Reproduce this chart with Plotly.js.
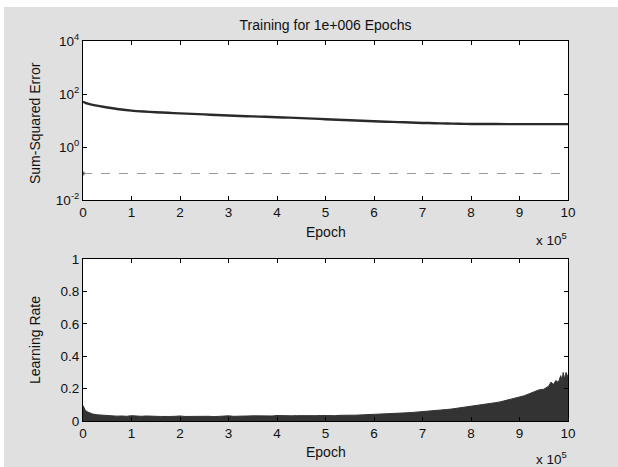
<!DOCTYPE html>
<html>
<head>
<meta charset="utf-8">
<script src="https://cdn.plot.ly/plotly-3.0.1.min.js"></script>
<style>
  html, body { margin: 0; padding: 0; background: #ffffff; width: 618px; height: 467px; overflow: hidden; }
  #chart { position: absolute; left: 4px; top: 7px; width: 614px; height: 460px; }
</style>
</head>
<body>
<div id="chart"></div>
<script>
// ---- data (epochs in units of 10^5) ----
const sseEpoch = [0, 0.05, 0.1, 0.25, 0.5, 0.75, 1, 1.25, 1.5, 1.75, 2, 2.25, 2.5, 2.75, 3, 3.25, 3.5, 3.75, 4, 4.25, 4.5, 4.75, 5, 5.25, 5.5, 5.75, 6, 6.25, 6.5, 6.75, 7, 7.25, 7.5, 7.75, 8, 8.5, 9, 9.5, 10];
const sseValue = [51, 46, 43, 37, 31, 26.5, 23.5, 21.8, 20.6, 19.5, 18.5, 17.8, 17, 16.1, 15.4, 14.8, 14.3, 13.8, 13.2, 12.8, 12.3, 11.8, 11.2, 10.7, 10.2, 9.8, 9.4, 9.0, 8.7, 8.4, 8.1, 7.9, 7.7, 7.5, 7.4, 7.35, 7.3, 7.3, 7.3];
const goalEpoch = [0, 10];
const goalValue = [0.1, 0.1];

const lrEpoch = [0, 0.02, 0.05, 0.1, 0.15, 0.2, 0.3, 0.4, 0.5, 0.6, 0.7, 0.8, 0.9,
  1.0, 1.1, 1.2, 1.3, 1.4, 1.5, 1.6, 1.7, 1.8, 1.9,
  2.0, 2.1, 2.2, 2.3, 2.4, 2.5, 2.6, 2.7, 2.8, 2.9,
  3.0, 3.1, 3.2, 3.3, 3.4, 3.5, 3.6, 3.7, 3.8, 3.9,
  4.0, 4.1, 4.2, 4.3, 4.4, 4.5, 4.6, 4.7, 4.8, 4.9,
  5.0, 5.1, 5.2, 5.3, 5.4, 5.5, 5.6, 5.7, 5.8, 5.9,
  6.0, 6.1, 6.2, 6.3, 6.4, 6.5, 6.6, 6.7, 6.8, 6.9,
  7.0, 7.1, 7.2, 7.3, 7.4, 7.5, 7.6, 7.7, 7.8, 7.9,
  8.0, 8.1, 8.2, 8.3, 8.4, 8.5, 8.6, 8.7, 8.8, 8.9,
  9.0, 9.1, 9.2, 9.3, 9.4, 9.5, 9.6, 9.65, 9.7, 9.75, 9.8, 9.85, 9.88, 9.9, 9.93, 9.96, 10.0];
const lrValue = [0.095, 0.08, 0.065, 0.055, 0.048, 0.043, 0.038, 0.035, 0.032, 0.031, 0.030, 0.031, 0.029,
  0.033, 0.030, 0.029, 0.031, 0.028, 0.029, 0.028, 0.030, 0.028, 0.029,
  0.031, 0.028, 0.029, 0.027, 0.029, 0.028, 0.029, 0.027, 0.029, 0.030,
  0.032, 0.029, 0.031, 0.030, 0.031, 0.032, 0.031, 0.033, 0.032, 0.031,
  0.034, 0.032, 0.033, 0.032, 0.033, 0.032, 0.033, 0.032, 0.033, 0.034,
  0.033, 0.034, 0.033, 0.035, 0.034, 0.035, 0.036, 0.037, 0.038, 0.039,
  0.040, 0.041, 0.042, 0.044, 0.045, 0.047, 0.048, 0.051, 0.053, 0.055,
  0.058, 0.060, 0.063, 0.065, 0.068, 0.071, 0.074, 0.078, 0.082, 0.085,
  0.090, 0.093, 0.098, 0.102, 0.107, 0.113, 0.118, 0.125, 0.131, 0.139,
  0.148, 0.156, 0.168, 0.180, 0.192, 0.196, 0.215, 0.24, 0.225, 0.25, 0.238, 0.28, 0.25, 0.30, 0.26, 0.30, 0.27];

const xTickVals = [0, 1, 2, 3, 4, 5, 6, 7, 8, 9, 10];
const xTickText = ['0', '1', '2', '3', '4', '5', '6', '7', '8', '9', '10'];
const sseTickVals = [0.01, 1, 100, 10000];
const sseTickText = ['10<sup>-2</sup>', '10<sup>0</sup>', '10<sup>2</sup>', '10<sup>4</sup>'];
const lrTickVals = [0, 0.2, 0.4, 0.6, 0.8, 1];
const lrTickText = ['0', '0.2', '0.4', '0.6', '0.8', '1'];

const titleText = 'Training for 1e+006 Epochs';

// ---- layout ----
const W = 614, H = 460;
const px = v => v / W;
const py = v => 1 - v / H;
const FAM = 'Liberation Sans, Arial, sans-serif';
const TICKFONT = { family: FAM, size: 13.5, color: '#111' };
const LABFONT = { family: FAM, size: 14, color: '#111' };

const axBase = {
  showgrid: false, zeroline: false, showline: true, linecolor: '#000', linewidth: 1,
  mirror: 'ticks', ticks: 'inside', ticklen: 4, tickcolor: '#000', tickwidth: 1,
  tickfont: TICKFONT, automargin: false, fixedrange: true
};

const traces = [
  { x: sseEpoch, y: sseValue, xaxis: 'x', yaxis: 'y', type: 'scatter', mode: 'lines',
    line: { color: '#2a2a2a', width: 2.4, shape: 'spline', smoothing: 0.6 }, hoverinfo: 'skip', showlegend: false },
  { x: goalEpoch, y: goalValue, xaxis: 'x', yaxis: 'y', type: 'scatter', mode: 'lines+markers',
    line: { color: '#9a9a9a', width: 1, dash: 'dash' },
    marker: { color: '#333', size: [4, 0] }, hoverinfo: 'skip', showlegend: false },
  { x: lrEpoch, y: lrValue, xaxis: 'x2', yaxis: 'y2', type: 'scatter', mode: 'lines',
    fill: 'tozeroy', fillcolor: '#333333', line: { color: '#333333', width: 1 },
    hoverinfo: 'skip', showlegend: false }
];

const layout = {
  width: W, height: H,
  margin: { l: 0, r: 0, t: 0, b: 0 },
  paper_bgcolor: '#e0e0e0', plot_bgcolor: '#ffffff',
  font: LABFONT,
  title: { text: titleText, font: LABFONT,
           x: px(321.5), xanchor: 'center', y: py(18), yanchor: 'middle' },
  xaxis: Object.assign({}, axBase, { domain: [px(79), px(564)], range: [0, 10],
           tickvals: xTickVals, ticktext: xTickText, anchor: 'y' }),
  yaxis: Object.assign({}, axBase, { domain: [py(193), py(34)], type: 'log', range: [-2, 4],
           tickvals: sseTickVals, ticktext: sseTickText, anchor: 'x' }),
  xaxis2: Object.assign({}, axBase, { domain: [px(79), px(564)], range: [0, 10],
           tickvals: xTickVals, ticktext: xTickText, anchor: 'y2' }),
  yaxis2: Object.assign({}, axBase, { domain: [py(414), py(252)], range: [0, 1],
           tickvals: lrTickVals, ticktext: lrTickText, anchor: 'x2' }),
  annotations: [
    { text: 'Epoch', xref: 'paper', yref: 'paper', x: px(321.5), y: py(225), xanchor: 'center', yanchor: 'middle', showarrow: false, font: LABFONT },
    { text: 'Epoch', xref: 'paper', yref: 'paper', x: px(321.5), y: py(445), xanchor: 'center', yanchor: 'middle', showarrow: false, font: LABFONT },
    { text: 'x 10<sup>5</sup>', xref: 'paper', yref: 'paper', x: px(565), y: py(232), xanchor: 'right', yanchor: 'middle', showarrow: false, font: TICKFONT },
    { text: 'x 10<sup>5</sup>', xref: 'paper', yref: 'paper', x: px(565), y: py(451), xanchor: 'right', yanchor: 'middle', showarrow: false, font: TICKFONT },
    { text: 'Sum-Squared Error', xref: 'paper', yref: 'paper', x: px(31), y: py(116), xanchor: 'center', yanchor: 'middle', textangle: -90, showarrow: false, font: LABFONT },
    { text: 'Learning Rate', xref: 'paper', yref: 'paper', x: px(31), y: py(333), xanchor: 'center', yanchor: 'middle', textangle: -90, showarrow: false, font: LABFONT }
  ]
};

Plotly.newPlot('chart', traces, layout, { staticPlot: true, displayModeBar: false });
</script>
</body>
</html>
